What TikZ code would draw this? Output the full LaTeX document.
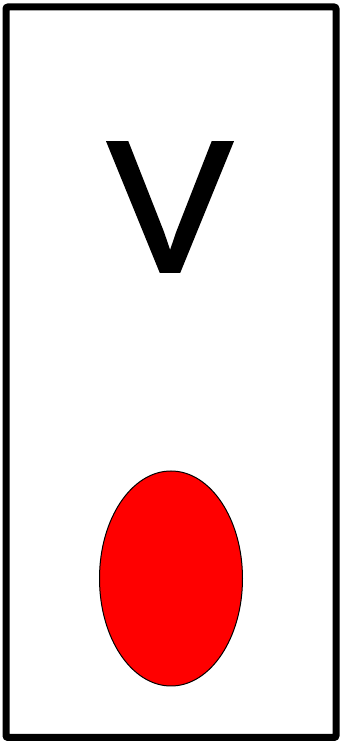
\documentclass[tikz,border=0pt]{standalone}
\usepackage{fontspec}
\setmainfont{Liberation Sans}
\newfontfamily\signfont[FakeBold=2]{Liberation Sans}
\usetikzlibrary{shapes.geometric}
\tikzset{
  frame/.style={draw=black, line width=7pt, rounded corners=2pt},
  letter/.style={font=\fontsize{186}{186}\signfont, inner sep=0pt, anchor=base},
  lamp/.style={ellipse, draw=black, line width=1pt, fill=red,
    minimum width=143pt, minimum height=215pt, inner sep=0pt}
}
\begin{document}
\begin{tikzpicture}[x=1pt,y=1pt]
  \useasboundingbox (0,0) rectangle (340,742);
  \draw[frame] (6,4.5) rectangle (336,735);
  \node[letter] (sign) at (170,471) {V};
  \node[lamp] (light) at (171,163.5) {};
\end{tikzpicture}
\end{document}
